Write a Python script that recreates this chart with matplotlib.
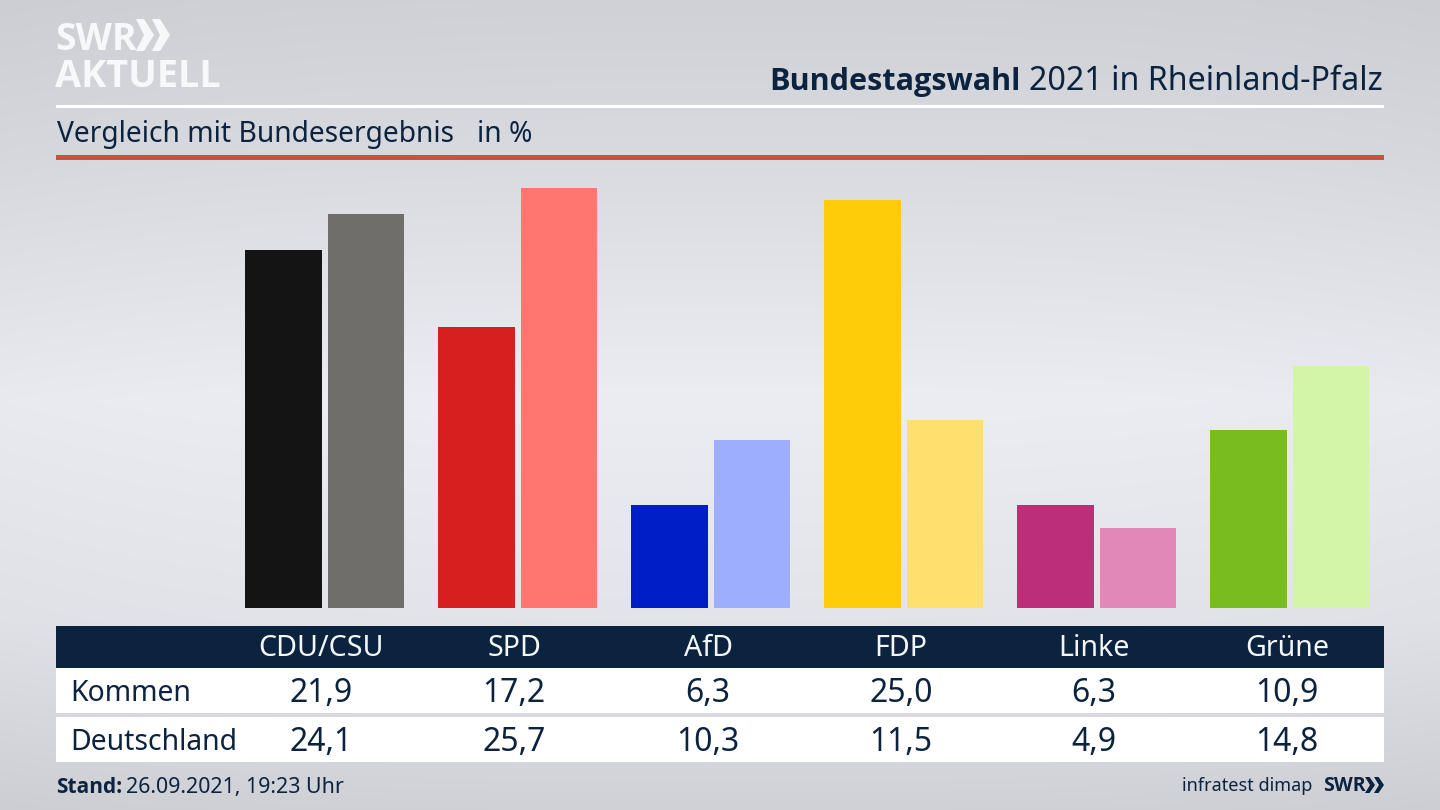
import matplotlib
matplotlib.use('Agg')

import numpy as np
import matplotlib.pyplot as plt
from matplotlib.patches import Rectangle, Polygon

parties = ['CDU/CSU', 'SPD', 'AfD', 'FDP', 'Linke', 'Grüne']
kommen = [21.9, 17.2, 6.3, 25.0, 6.3, 10.9]
deutschland = [24.1, 25.7, 10.3, 11.5, 4.9, 14.8]
row_names = ['Kommen', 'Deutschland']
colors_dark = ['#141414', '#d71f1d', '#001ec8', '#ffcc0a', '#bc2e78', '#78bc1e']
colors_light = ['#6f6e6b', '#ff7570', '#9eaeff', '#ffdf6e', '#e088b8', '#d2f5a8']

NAVY = '#0c2340'
BOLD = 'Open Sans'
W, H = 1440, 810
plt.rcParams['font.family'] = ['Noto Sans', 'DejaVu Sans']


def fmt(v):
    return f'{v:.1f}'.replace('.', ',')


fig = plt.figure(figsize=(W / 100, H / 100), dpi=100)

# Pixel canvas for background, rules, table and labels
bg = fig.add_axes([0, 0, 1, 1])
bg.set_xlim(0, W)
bg.set_ylim(H, 0)
bg.axis('off')

# Vertical grey gradient, lightest around the middle
stops_y = [0, 150, 400, 620, 810]
stops_v = [207, 216, 235, 226, 207]
grad = np.interp(np.arange(H), stops_y, stops_v)
edge = np.abs(np.linspace(-1, 1, W)) ** 3 * 3
img = (grad[:, None] - edge[None, :])
rgb = np.dstack([img, img + 2, img + 7]).clip(0, 255) / 255
bg.imshow(rgb, extent=[0, W, H, 0], aspect='auto', zorder=0)

# Rules
bg.add_patch(Rectangle((56, 104.5), 1328, 3, color='white', lw=0, zorder=1))
bg.add_patch(Rectangle((56, 155), 1328, 5, color='#c8523c', lw=0, zorder=1))

# Logo
bg.text(55, 50, 'SWR', fontsize=27, family=BOLD, fontweight='bold', color='#f7f8f9', va='baseline', ha='left')
for x0 in (136, 152):
    bg.add_patch(Polygon([(x0, 19), (x0 + 8, 19), (x0 + 18, 35), (x0 + 8, 51), (x0, 51), (x0 + 8, 35)],
                         color='#f7f8f9', lw=0, zorder=2))
bg.text(55, 87, 'AKTUELL', fontsize=27.3, family=BOLD, fontweight='bold', color='#f7f8f9', va='baseline', ha='left')

# Title, regular part right aligned, bold part to its left
t = bg.text(1383, 90, '2021 in Rheinland-Pfalz', fontsize=23.2, color=NAVY, ha='right', va='baseline')
fig.canvas.draw()
box = t.get_window_extent()
bg.text(box.x0 - 9, 90, 'Bundestagswahl', fontsize=22.1, family=BOLD, fontweight='bold', color=NAVY, ha='right', va='baseline')

bg.text(57, 142, 'Vergleich mit Bundesergebnis', fontsize=20.3, color=NAVY, ha='left', va='baseline')
bg.text(477, 142, 'in %', fontsize=20.3, color=NAVY, ha='left', va='baseline')

# Bars
base_px, top_px = 608, 170
px_per_unit = 16.33
group_px = 193.0
first_px = 324.7
ax = fig.add_axes([0, 1 - base_px / H, 1, (base_px - top_px) / H])
ax.set_xlim(-first_px / group_px, (W - first_px) / group_px)
ax.set_ylim(0, (base_px - top_px) / px_per_unit)
ax.axis('off')
ax.patch.set_alpha(0)
xs = np.arange(len(parties))
bar_w = 76.6 / group_px
off = 41.3 / group_px
ax.bar(xs - off, kommen, bar_w, color=colors_dark, lw=0)
ax.bar(xs + off, deutschland, bar_w, color=colors_light, lw=0)

# Table
bg.add_patch(Rectangle((56, 626), 1328, 42, color=NAVY, lw=0, zorder=1))
bg.add_patch(Rectangle((56, 668), 1328, 45, color='white', lw=0, zorder=1))
bg.add_patch(Rectangle((56, 717), 1328, 45, color='white', lw=0, zorder=1))

col_px = [321, 514, 708, 901, 1094, 1287]
for cx, name, a, b in zip(col_px, parties, kommen, deutschland):
    bg.text(cx, 656, name, fontsize=20.6, color='#f4f6f8', ha='center', va='baseline', zorder=3)
    bg.text(cx, 702, fmt(a), fontsize=23, color=NAVY, ha='center', va='baseline', zorder=3)
    bg.text(cx, 751, fmt(b), fontsize=23, color=NAVY, ha='center', va='baseline', zorder=3)
for y, name in zip((701, 750), row_names):
    bg.text(70, y, name, fontsize=20.4, color=NAVY, ha='left', va='baseline', zorder=3)

# Footer
bg.text(56, 793, 'Stand:', fontsize=15, family=BOLD, fontweight='bold', color=NAVY, ha='left', va='baseline')
bg.text(126, 793, '26.09.2021, 19:23 Uhr', fontsize=15.4, color=NAVY, ha='left', va='baseline')
bg.text(1312, 791, 'infratest dimap', fontsize=13, color=NAVY, ha='right', va='baseline')
bg.text(1323, 791, 'SWR', fontsize=14, family=BOLD, fontweight='bold', color=NAVY, ha='left', va='baseline')
for x0 in (1365, 1374):
    bg.add_patch(Polygon([(x0, 777), (x0 + 4.5, 777), (x0 + 10, 785), (x0 + 4.5, 793), (x0, 793), (x0 + 5, 785)],
                         color=NAVY, lw=0, zorder=2))

bg.set_xlim(0, W)
bg.set_ylim(H, 0)
fig.savefig('out.png', dpi=100)
plt.close(fig)
